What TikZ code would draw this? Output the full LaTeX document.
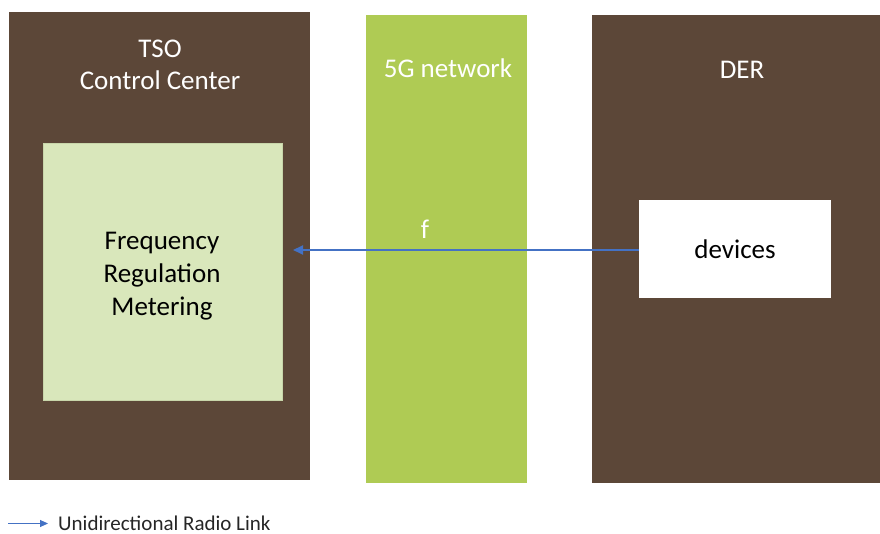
\documentclass[tikz,border=0pt]{standalone}
\usepackage{fontspec}
\setmainfont{Carlito}
\usetikzlibrary{arrows.meta}
\definecolor{brownbox}{RGB}{92,71,56}
\definecolor{netgreen}{RGB}{175,203,84}
\definecolor{palegreen}{RGB}{217,231,187}
\definecolor{paleedge}{RGB}{200,214,170}
\definecolor{linkblue}{RGB}{68,114,196}
\tikzset{
  panel/.style={draw=none, fill=#1, anchor=north west, inner sep=0pt, outer sep=0pt},
  title/.style={text=white, font=\fontsize{27}{32}\selectfont, align=center, anchor=base},
  body/.style={text=black, font=\fontsize{27}{33}\selectfont, align=center},
  link/.style={draw=linkblue, line width=2pt, -{Triangle[length=10pt,width=9pt]}},
  legendlink/.style={draw=linkblue, line width=1pt, -{Triangle[length=8pt,width=7pt]}}
}
\begin{document}
\begin{tikzpicture}[x=1pt, y=-1pt]
  \useasboundingbox (0,0) rectangle (880,534);
  % three columns
  \node[panel=brownbox, minimum width=301pt, minimum height=468pt] (tso) at (9,12) {};
  \node[panel=netgreen, minimum width=161pt, minimum height=468pt] (net) at (366,15) {};
  \node[panel=brownbox, minimum width=288pt, minimum height=468pt] (der) at (592,15) {};
  % inner boxes
  \node[panel=palegreen, draw=paleedge, line width=0.8pt, minimum width=239pt, minimum height=257pt] (fm) at (43,143) {};
  \node[panel=white, minimum width=192pt, minimum height=98pt] (dev) at (639,200) {};
  % titles
  \node[title] (tsot) at (160,58) {TSO};
  \node[title] (tsoc) at (160,90) {Control Center};
  \node[title] (nett) at (448,78) {5G network};
  \node[title] (dert) at (742,79) {DER};
  % box texts
  \node[body] (fmt) at (162,276) {Frequency\\Regulation\\Metering};
  \node[body] (devt) at (dev.center) {devices};
  % radio link
  \coordinate (tip) at (293,250);
  \draw[link] (dev.west |- tip) -- (tip);
  \node[text=white, font=\fontsize{27}{32}\selectfont] (flab) at (425,229) {f};
  % legend
  \coordinate (l1) at (8,523.5);
  \coordinate (l2) at (48,523.5);
  \draw[legendlink] (l1) -- (l2);
  \node[anchor=base west, inner sep=0pt, text=black!85, font=\fontsize{21}{24}\selectfont] (legt) at (58,530) {Unidirectional Radio Link};
\end{tikzpicture}
\end{document}
